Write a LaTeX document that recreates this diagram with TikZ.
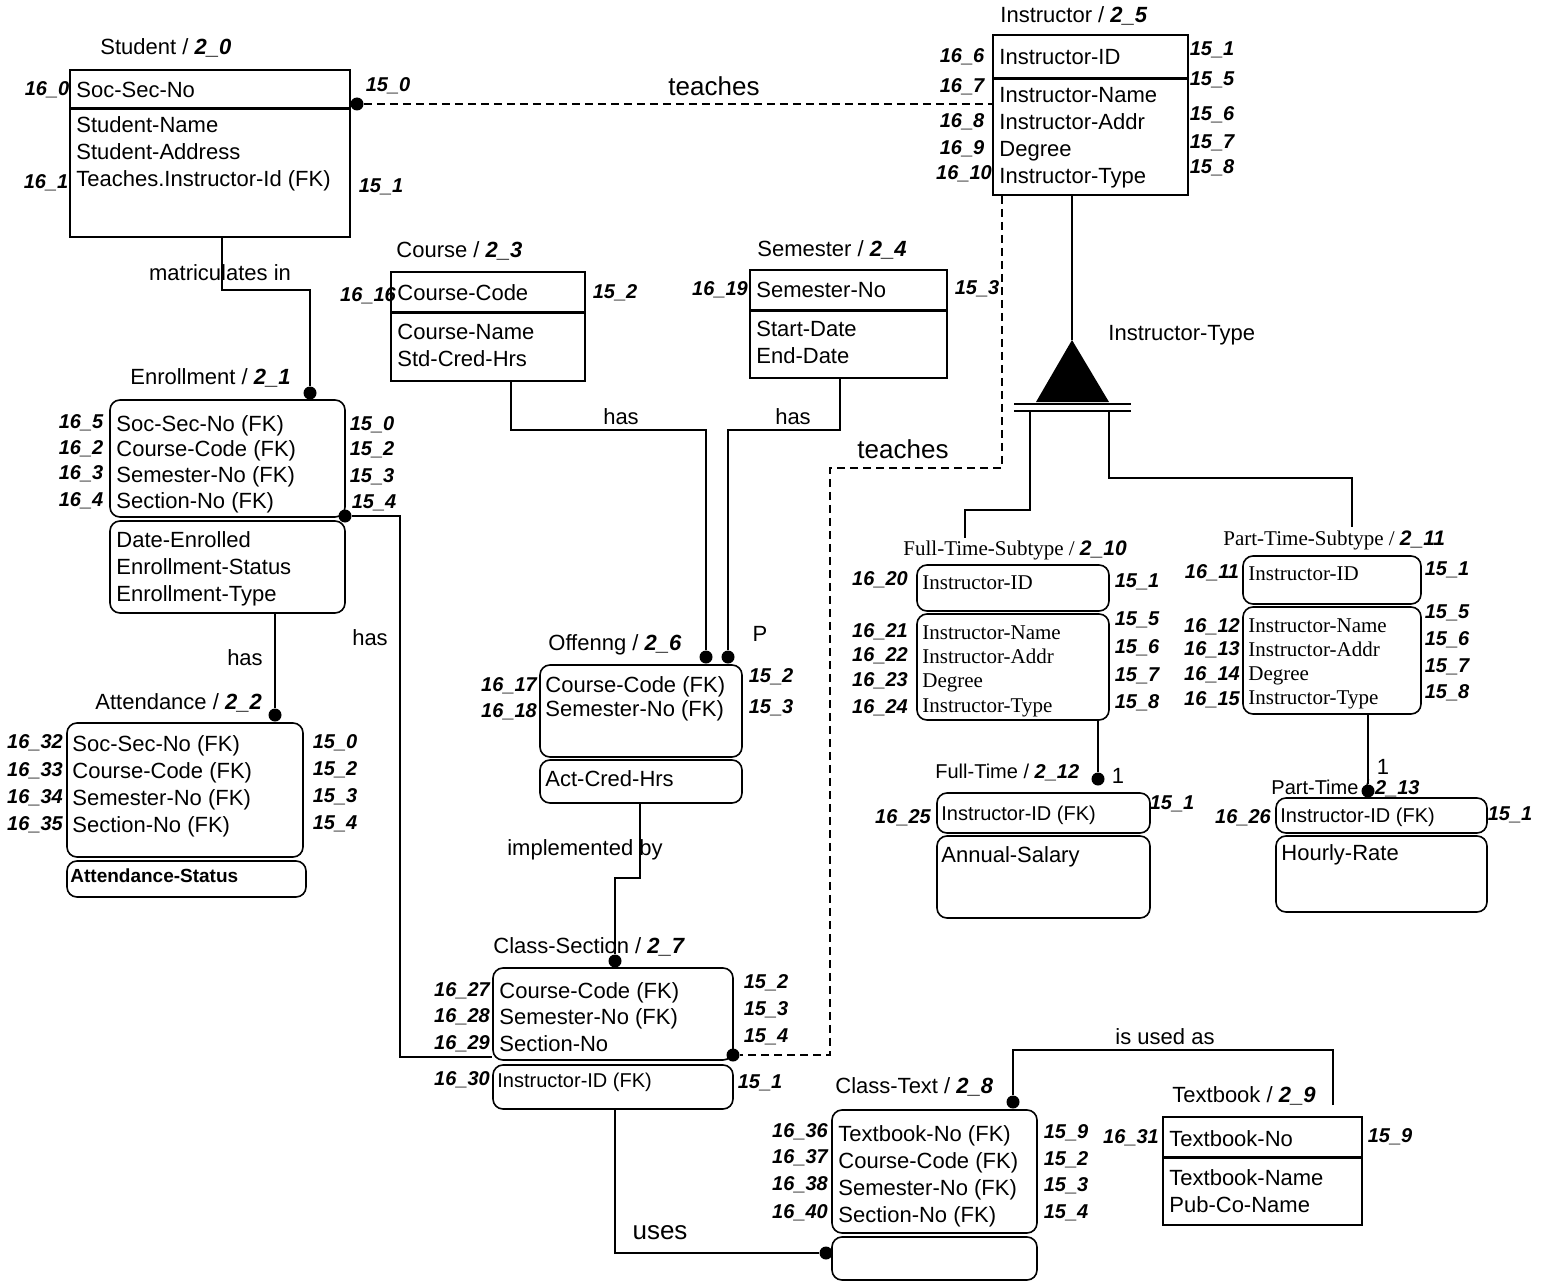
\documentclass[tikz,border=0pt]{standalone}
\usepackage{fontspec}
\setmainfont{Liberation Sans}
\newfontfamily\serifft{Liberation Serif}
\usetikzlibrary{fit}
\newcommand{\idn}[1]{{\bfseries\itshape #1}}
\tikzset{
  ent/.style={draw, line width=0.8pt, inner sep=0pt},
  dep/.style={ent, rounded corners=5pt},
  keyline/.style={line width=1.5pt},
  attr/.style={anchor=north west, inner sep=0pt, align=left, font=\fontsize{11}{13.5}\selectfont},
  title/.style={anchor=west, inner sep=0pt, font=\fontsize{11}{13}\selectfont},
  num/.style={inner sep=0pt, font=\bfseries\itshape\fontsize{10}{12}\selectfont},
  rel/.style={line width=0.6pt},
  nonid/.style={rel, dash pattern=on 4pt off 2.5pt},
  rdot/.style={circle, fill, inner sep=0pt, minimum size=6.5pt},
  lbl/.style={inner sep=1pt, font=\fontsize{11}{13}\selectfont}
}
\begin{document}
\begin{tikzpicture}[x=0.5pt, y=-0.5pt]
  \useasboundingbox (0,0) rectangle (1554,1284);

  % Student
  \node[ent, fit={(70,70) (350,108)}] (stuK) {};
  \node[ent, fit={(70,108) (350,237)}] (stuN) {};
  \draw[keyline] (stuK.south west) -- (stuK.south east);
  \node[title] (stuT) at (100,48) {Student / \idn{2\_0}};
  \node[attr] (stuKa) at (76,82) {Soc-Sec-No};
  \node[attr] (stuNa) at (76,116) {Student-Name\\Student-Address\\Teaches.Instructor-Id (FK)};

  % Enrollment
  \node[dep, fit={(110,400) (345,517)}] (enrK) {};
  \node[dep, fit={(110,521) (345,613)}] (enrN) {};
  \node[title] (enrT) at (130,378) {Enrollment / \idn{2\_1}};
  \node[attr, font=\fontsize{11}{12.8}\selectfont] (enrKa) at (116,415) {Soc-Sec-No (FK)\\Course-Code (FK)\\Semester-No (FK)\\Section-No (FK)};
  \node[attr] (enrNa) at (116,531) {Date-Enrolled\\Enrollment-Status\\Enrollment-Type};

  % Attendance
  \node[dep, fit={(67,723) (303,857)}] (attK) {};
  \node[dep, fit={(67,861) (306,897)}] (attN) {};
  \node[title] (attT) at (95,703) {Attendance / \idn{2\_2}};
  \node[attr] (attKa) at (72,735) {Soc-Sec-No (FK)\\Course-Code (FK)\\Semester-No (FK)\\Section-No (FK)};
  \node[attr, font=\bfseries\fontsize{9.5}{11}\selectfont] (attNa) at (70,868) {Attendance-Status};

  % Course
  \node[ent, fit={(391,272) (585,312)}] (crsK) {};
  \node[ent, fit={(391,312) (585,381)}] (crsN) {};
  \draw[keyline] (crsK.south west) -- (crsK.south east);
  \node[title] (crsT) at (396,251) {Course / \idn{2\_3}};
  \node[attr] (crsKa) at (397,284) {Course-Code};
  \node[attr] (crsNa) at (397,324) {Course-Name\\Std-Cred-Hrs};

  % Semester
  \node[ent, fit={(750,270) (947,310)}] (semK) {};
  \node[ent, fit={(750,310) (947,378)}] (semN) {};
  \draw[keyline] (semK.south west) -- (semK.south east);
  \node[title] (semT) at (757,250) {Semester / \idn{2\_4}};
  \node[attr] (semKa) at (756,282) {Semester-No};
  \node[attr] (semNa) at (756,321) {Start-Date\\End-Date};

  % Instructor
  \node[ent, fit={(993,35) (1188,78)}] (insK) {};
  \node[ent, fit={(993,78) (1188,195)}] (insN) {};
  \draw[keyline] (insK.south west) -- (insK.south east);
  \node[title] (insT) at (1000,16) {Instructor / \idn{2\_5}};
  \node[attr] (insKa) at (999,49) {Instructor-ID};
  \node[attr] (insNa) at (999,87) {Instructor-Name\\Instructor-Addr\\Degree\\Instructor-Type};

  % Offering
  \node[dep, fit={(540,665) (742,757)}] (offK) {};
  \node[dep, fit={(540,760) (742,803)}] (offN) {};
  \node[title] (offT) at (548,645) {Offenng / \idn{2\_6}};
  \node[attr, font=\fontsize{11}{12}\selectfont] (offKa) at (545,676) {Course-Code (FK)\\Semester-No (FK)};
  \node[attr] (offNa) at (545,770) {Act-Cred-Hrs};

  % Class-Section
  \node[dep, fit={(493,968) (733,1060)}] (csK) {};
  \node[dep, fit={(493,1065) (733,1109)}] (csN) {};
  \node[title] (csT) at (493,947) {Class-Section / \idn{2\_7}};
  \node[attr, font=\fontsize{11}{13.2}\selectfont] (csKa) at (499,982) {Course-Code (FK)\\Semester-No (FK)\\Section-No};
  \node[attr, font=\fontsize{10}{12}\selectfont] (csNa) at (497,1073) {Instructor-ID (FK)};

  % Class-Text
  \node[dep, fit={(832,1110) (1037,1233)}] (ctK) {};
  \node[dep, fit={(832,1237) (1037,1280)}] (ctN) {};
  \node[title] (ctT) at (835,1087) {Class-Text / \idn{2\_8}};
  \node[attr] (ctKa) at (838,1125) {Textbook-No (FK)\\Course-Code (FK)\\Semester-No (FK)\\Section-No (FK)};

  % Textbook
  \node[ent, fit={(1163,1117) (1362,1157)}] (tbK) {};
  \node[ent, fit={(1163,1157) (1362,1225)}] (tbN) {};
  \draw[keyline] (tbK.south west) -- (tbK.south east);
  \node[title] (tbT) at (1172,1096) {Textbook / \idn{2\_9}};
  \node[attr] (tbKa) at (1169,1130) {Textbook-No};
  \node[attr] (tbNa) at (1169,1169) {Textbook-Name\\Pub-Co-Name};

  % Subtipos
  \node[dep, fit={(917,565) (1109,611)}] (ftsK) {};
  \node[dep, fit={(917,614) (1109,720)}] (ftsN) {};
  \node[title, font=\serifft\fontsize{10.5}{12}\selectfont] (ftsT) at (903,550) {Full-Time-Subtype / \idn{\rmfamily 2\_10}};
  \node[attr, font=\serifft\fontsize{10.5}{12.2}\selectfont] (ftsKa) at (922,575) {Instructor-ID};
  \node[attr, font=\serifft\fontsize{10.5}{12.2}\selectfont] (ftsNa) at (922,625) {Instructor-Name\\Instructor-Addr\\Degree\\Instructor-Type};

  \node[dep, fit={(1243,556) (1421,604)}] (ptsK) {};
  \node[dep, fit={(1243,607) (1421,714)}] (ptsN) {};
  \node[title, font=\serifft\fontsize{10.5}{12}\selectfont] (ptsT) at (1223,540) {Part-Time-Subtype / \idn{\rmfamily 2\_11}};
  \node[attr, font=\serifft\fontsize{10.5}{12}\selectfont] (ptsKa) at (1248,566) {Instructor-ID};
  \node[attr, font=\serifft\fontsize{10.5}{12}\selectfont] (ptsNa) at (1248,618) {Instructor-Name\\Instructor-Addr\\Degree\\Instructor-Type};

  \node[dep, fit={(937,793) (1150,833)}] (ftK) {};
  \node[dep, fit={(937,836) (1150,918)}] (ftN) {};
  \node[title, font=\fontsize{10}{12}\selectfont] (ftT) at (935,772) {Full-Time / \idn{2\_12}};
  \node[attr, font=\fontsize{10}{12}\selectfont] (ftKa) at (941,806) {Instructor-ID (FK)};
  \node[attr] (ftNa) at (941,846) {Annual-Salary};

  \node[dep, fit={(1276,798) (1487,833)}] (ptK) {};
  \node[dep, fit={(1276,836) (1487,912)}] (ptN) {};
  \node[title, font=\fontsize{10}{12}\selectfont] (ptT) at (1271,788) {Part-Time / \idn{2\_13}};
  \node[attr, font=\fontsize{10}{12}\selectfont] (ptKa) at (1280,808) {Instructor-ID (FK)};
  \node[attr] (ptNa) at (1281,844) {Hourly-Rate};

  % Puntos
  \node[rdot] (dTch) at (357,104) {};
  \node[rdot] (dEnr) at (310,393) {};
  \node[rdot] (dEnr2) at (345,516) {};
  \node[rdot] (dAtt) at (275,715) {};
  \node[rdot] (dOff1) at (706,657) {};
  \node[rdot] (dOff2) at (728,657) {};
  \node[rdot] (dCS) at (615,961) {};
  \node[rdot] (dCS2) at (733,1055) {};
  \node[rdot] (dCT) at (1013,1102) {};
  \node[rdot] (dCT2) at (826,1253) {};
  \node[rdot] (dFT) at (1098,779) {};
  \node[rdot] (dPT) at (1368,791) {};

  % Relaciones
  \draw[nonid] (dTch) -- (dTch -| insN.west);
  \draw[rel] (stuN.south -| 222,0) -- (222,290) -| (dEnr);
  \draw[rel] (enrN.south -| 275,0) -- (dAtt);
  \draw[rel] (dEnr2) -- (400,516) -- (400,1057) -- (csK.west |- 0,1057);
  \draw[rel] (crsN.south -| 511,0) -- (511,430) -| (dOff1);
  \draw[rel] (semN.south -| 840,0) -- (840,430) -| (dOff2);
  \draw[rel] (offN.south -| 640,0) -- (640,878) -| (dCS);
  \draw[nonid] (insN.south -| 1002,0) -- (1002,468) -| (830,1055) -- (dCS2);
  \draw[rel] (csN.south -| 615,0) |- (dCT2);
  \coordinate (tbIn) at (1333,1105);
  \draw[rel] (tbIn) |- (1013,1050) -- (dCT);

  % Categoria
  \coordinate (catTop) at (1072,340);
  \draw[rel] (insN.south -| catTop) -- (catTop);
  \fill (catTop) -- (1036,402) -- (1109,402) -- cycle;
  \draw[rel] (1014,404) -- (1131,404) (1014,411) -- (1131,411);
  \coordinate (ftsIn) at (965,538);
  \coordinate (ptsIn) at (1352,527);
  \draw[rel] (1030,411) -- (1030,510) -| (ftsIn);
  \draw[rel] (1109,411) -- (1109,478) -| (ptsIn);
  \draw[rel] (ftsN.south -| dFT) -- (dFT);
  \draw[rel] (ptsN.south -| dPT) -- (dPT);

  % Etiquetas
  \node[lbl, font=\fontsize{13}{15}\selectfont] (rTch1) at (714,86) {teaches};
  \node[lbl] (rMat) at (220,273) {matriculates in};
  \node[lbl] (rHas1) at (245,658) {has};
  \node[lbl] (rHas2) at (370,638) {has};
  \node[lbl] (rHas3) at (621,417) {has};
  \node[lbl] (rHas4) at (793,417) {has};
  \node[lbl] (rImp) at (585,850) {implemented by};
  \node[lbl, font=\fontsize{13}{15}\selectfont] (rTch2) at (903,449) {teaches};
  \node[lbl, font=\fontsize{13}{15}\selectfont] (rUses) at (660,1233) {uses};
  \node[lbl] (rUsed) at (1165,1037) {is used as};
  \node[lbl, anchor=west] (rCat) at (1106,335) {Instructor-Type};
  \node[lbl] (rP) at (760,634) {P};
  \node[lbl] (rOne1) at (1118,776) {1};
  \node[lbl] (rOne2) at (1383,767) {1};

  % Numeros
  \foreach [count=\i] \t/\x/\y in {
    16\_0/47/90, 15\_0/388/86, 16\_1/46/183, 15\_1/381/187,
    16\_5/81/423, 16\_2/81/449, 16\_3/81/474, 16\_4/81/501,
    15\_0/372/425, 15\_2/372/450, 15\_3/372/477, 15\_4/374/503,
    16\_32/35/743, 16\_33/35/771, 16\_34/35/798, 16\_35/35/825,
    15\_0/335/743, 15\_2/335/770, 15\_3/335/797, 15\_4/335/824,
    16\_16/368/296, 15\_2/615/293, 16\_19/720/290, 15\_3/977/289,
    16\_6/962/57, 16\_7/962/87, 16\_8/962/122, 16\_9/962/149, 16\_10/964/174,
    15\_1/1212/50, 15\_5/1212/80, 15\_6/1212/115, 15\_7/1212/143, 15\_8/1212/168,
    16\_17/509/686, 16\_18/509/712, 15\_2/771/677, 15\_3/771/708,
    16\_27/462/991, 16\_28/462/1017, 16\_29/462/1044, 16\_30/462/1080,
    15\_2/766/983, 15\_3/766/1010, 15\_4/766/1037, 15\_1/760/1083,
    16\_36/800/1132, 16\_37/800/1158, 16\_38/800/1185, 16\_40/800/1213,
    15\_9/1066/1133, 15\_2/1066/1160, 15\_3/1066/1186, 15\_4/1066/1213,
    16\_31/1131/1138, 15\_9/1390/1137,
    16\_20/880/580, 16\_21/880/632, 16\_22/880/656, 16\_23/880/681, 16\_24/880/708,
    15\_1/1137/582, 15\_5/1137/620, 15\_6/1137/648, 15\_7/1137/676, 15\_8/1137/703,
    16\_11/1212/573, 16\_12/1212/627, 16\_13/1212/650, 16\_14/1212/675, 16\_15/1212/700,
    15\_1/1447/570, 15\_5/1447/613, 15\_6/1447/640, 15\_7/1447/667, 15\_8/1447/693,
    16\_25/903/818, 15\_1/1172/804, 16\_26/1243/818, 15\_1/1510/815}
    \node[num] (lab\i) at (\x,\y) {\t};
\end{tikzpicture}
\end{document}
